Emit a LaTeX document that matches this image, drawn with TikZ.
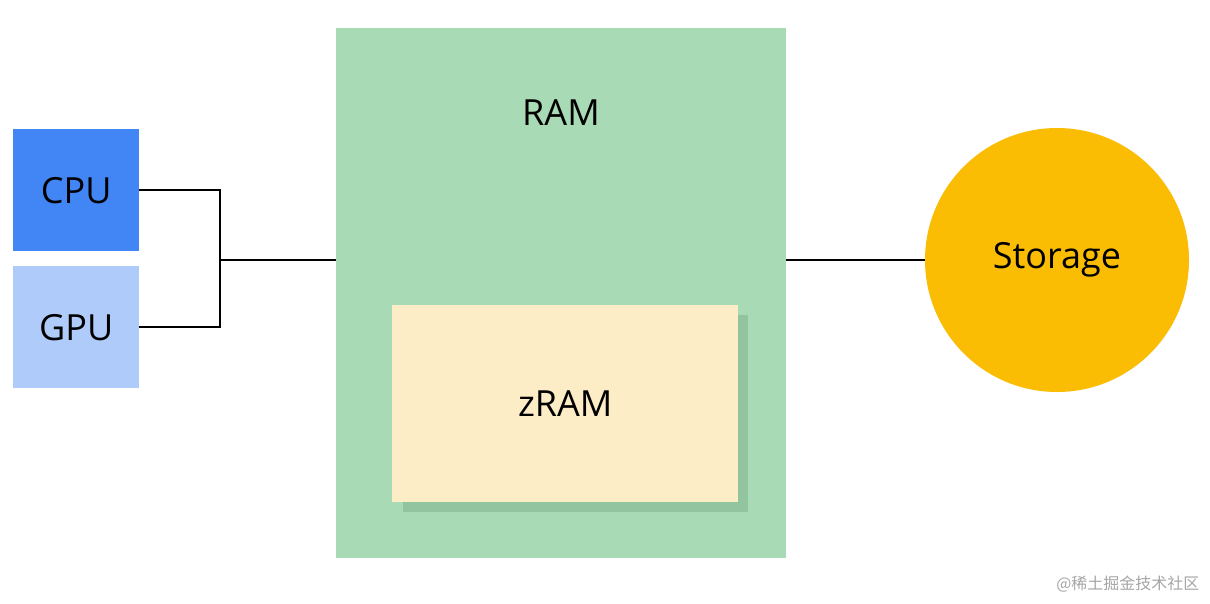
\documentclass[tikz,border=0pt]{standalone}
\usepackage{fontspec}
\setmainfont{Open Sans}
\newfontfamily\cjk{Noto Sans CJK SC}
\definecolor{cpu}{HTML}{4285F4}
\definecolor{gpu}{HTML}{AECBFA}
\definecolor{ram}{HTML}{A8DAB5}
\definecolor{zram}{HTML}{FCEDC6}
\definecolor{shad}{HTML}{93C4A0}
\definecolor{stor}{HTML}{FBBC04}
\begin{document}
\begin{tikzpicture}[x=1pt,y=-1pt,
  lbl/.style={font=\fontsize{36}{42}\selectfont},
  conn/.style={line width=2pt,black}]
\useasboundingbox (0,0) rectangle (1210,603);
\fill[white] (0,0) rectangle (1210,603);
\node[fill=cpu,minimum width=126pt,minimum height=122pt,inner sep=0,anchor=north west,lbl] (cpu) at (13,129) {CPU};
\node[fill=gpu,minimum width=126pt,minimum height=122pt,inner sep=0,anchor=north west,lbl] (gpu) at (13,266) {GPU};
\node[fill=ram,minimum width=450pt,minimum height=530pt,inner sep=0,anchor=north west] (ram) at (336,28) {};
\node[lbl] (ramlbl) at (561,113) {RAM};
\fill[shad] (403,315) rectangle (748,512);
\node[fill=zram,minimum width=346pt,minimum height=197pt,inner sep=0,anchor=north west,lbl] (zram) at (392,305) {zRAM};
\node[circle,fill=stor,minimum size=264pt,inner sep=0,lbl] (stor) at (1057,260) {Storage};
\coordinate (j) at (220,260);
\draw[conn] (cpu.east) -| (j);
\draw[conn] (gpu.east) -| (j);
\draw[conn] (j) -- (ram.west |- j);
\draw[conn] (ram.east |- j) -- (stor.west);
\node[anchor=east,text=gray!70,font=\cjk\fontsize{16}{19}\selectfont] (wm) at (1203,584) {@稀土掘金技术社区};
\end{tikzpicture}
\end{document}
